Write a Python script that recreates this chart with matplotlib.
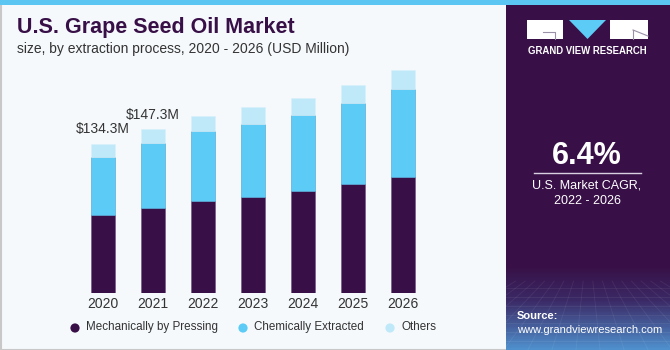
import numpy as np
import matplotlib.pyplot as plt
from matplotlib.patches import Rectangle, Polygon, Circle
from matplotlib.colors import LinearSegmentedColormap

# data (USD Million)
years = ['2020', '2021', '2022', '2023', '2024', '2025', '2026']
mech = [70.0, 76.5, 82.9, 86.8, 91.9, 98.2, 104.2]
chem = [52.3, 58.2, 63.1, 65.5, 68.7, 73.0, 79.3]
others = [12.0, 12.6, 13.5, 15.0, 15.3, 16.2, 17.4]
labels = ['$134.3M', '$147.3M']
series_names = ['Mechanically by Pressing', 'Chemically Extracted', 'Others']

DARK = '#381047'
BLUE = '#5ccbf6'
LIGHT = '#bfe9f9'
BG = '#f5f9fc'

W, H = 670, 350
fig = plt.figure(figsize=(6.7, 3.5), dpi=100)
fig.patch.set_facecolor(BG)
plt.rcParams['font.family'] = ['Liberation Sans', 'DejaVu Sans']


def fax(x0, y0, x1, y1, z=0):
    a = fig.add_axes([x0 / W, 1 - y1 / H, (x1 - x0) / W, (y1 - y0) / H], zorder=z)
    a.set_axis_off()
    return a


# full-figure overlay in pixel coords (y down)
ov = fax(0, 0, W, H, z=1)
ov.set_xlim(0, W)
ov.set_ylim(H, 0)
ov.patch.set_alpha(0)
ov.add_patch(Rectangle((0.5, 0.5), W - 1, H - 1, fill=False, ec='#c8c8c8', lw=1.5))
ov.add_patch(Rectangle((0, 0), W, 5, fc='#5cc6f2', ec='none'))

# right panel with gradient at the bottom
pan = fax(506, 5, 670, 350, z=2)
grad = np.linspace(0, 1, 345)
cmap = LinearSegmentedColormap.from_list(
    'p', [(0, '#381047'), (0.76, '#381047'), (0.86, '#3b2a66'), (1.0, '#4f8fcc')])
pan.imshow(grad[:, None], aspect='auto', cmap=cmap, extent=[0, 1, 1, 0])
for k in np.linspace(0, 1, 18):
    pan.plot([k, 0.5 + (k - 0.5) * 2.5], [0.8, 1.0], color='white', alpha=0.07, lw=0.6)
for k in np.linspace(0.82, 1.0, 8):
    pan.plot([0, 1], [k, k], color='white', alpha=0.07, lw=0.6)
pan.set_xlim(0, 1)
pan.set_ylim(1, 0)

# logo + divider
lg = fax(0, 0, W, H, z=3)
lg.set_xlim(0, W)
lg.set_ylim(H, 0)
lg.patch.set_alpha(0)
lg.add_patch(Rectangle((527, 20), 36, 19, fc='white', ec='none'))
lg.add_patch(Rectangle((610, 20), 38, 19, fc='white', ec='none'))
lg.add_patch(Polygon([[569, 20], [606, 20], [587.5, 39]], closed=True, fc=BLUE, ec='none'))
lg.plot([543, 555, 555], [32, 32, 39], color='#9a90a8', lw=0.8)
lg.plot([633, 648], [30, 36], color='#9a90a8', lw=0.8)
lg.plot([633, 633], [30, 39], color='#9a90a8', lw=0.8)
lg.plot([534, 641], [173, 173], color='#d8d0e0', lw=1.0)

lg.text(587, 51, 'GRAND VIEW RESEARCH', color='white', fontsize=6.9,
        fontweight='bold', ha='center', va='center')
lg.text(587, 156, '6.4%', color='white', fontsize=22, fontweight='bold',
        ha='center', va='center')
lg.text(587, 186, 'U.S. Market CAGR,', color='white', fontsize=9,
        ha='center', va='center')
lg.text(587, 201, '2022 - 2026', color='white', fontsize=9,
        ha='center', va='center')
lg.text(517, 316, 'Source:', color='white', fontsize=8, fontweight='bold',
        ha='left', va='center')
lg.text(517, 330, 'www.grandviewresearch.com', color='white', fontsize=8,
        ha='left', va='center')

# titles
ov.text(17, 28, 'U.S. Grape Seed Oil Market', color=DARK, fontsize=15.5,
        fontweight='bold', ha='left', va='center')
ov.text(17, 49, 'size, by extraction process, 2020 - 2026 (USD Million)',
        color='#333333', fontsize=10, ha='left', va='center')

# bars
ax = fax(78, 60, 428, 293, z=4)
x = np.arange(len(years))
bw = 0.48
b1 = np.array(mech)
b2 = b1 + np.array(chem)
ax.bar(x, mech, width=bw, color=DARK, ec='#6a5080', lw=0.4)
ax.bar(x, chem, width=bw, bottom=b1, color=BLUE, ec='#4a9ed0', lw=0.4)
ax.bar(x, others, width=bw, bottom=b2, color=LIGHT, ec='#d8f1fb', lw=0.4)
ax.set_xlim(-0.5, len(years) - 0.5)
ax.set_ylim(0, 233 / 1.11)
totals = b2 + np.array(others)
for i, lab in enumerate(labels):
    ax.text(x[i], totals[i] + 7, lab, ha='center', va='bottom', fontsize=10,
            color='#333333')
for i, yr in enumerate(years):
    ax.text(x[i], -4, yr, ha='center', va='top', fontsize=10, color='#333333',
            clip_on=False)

# legend
cols = [DARK, BLUE, LIGHT]
lx = [75, 243, 390]
for xx, c, name in zip(lx, cols, series_names):
    ov.add_patch(Circle((xx, 328), 4.6, fc=c, ec='none'))
    ov.text(xx + 11, 327, name, color='#333333', fontsize=8.4,
            ha='left', va='center')

fig.savefig('out.png', dpi=100, facecolor=fig.get_facecolor())
